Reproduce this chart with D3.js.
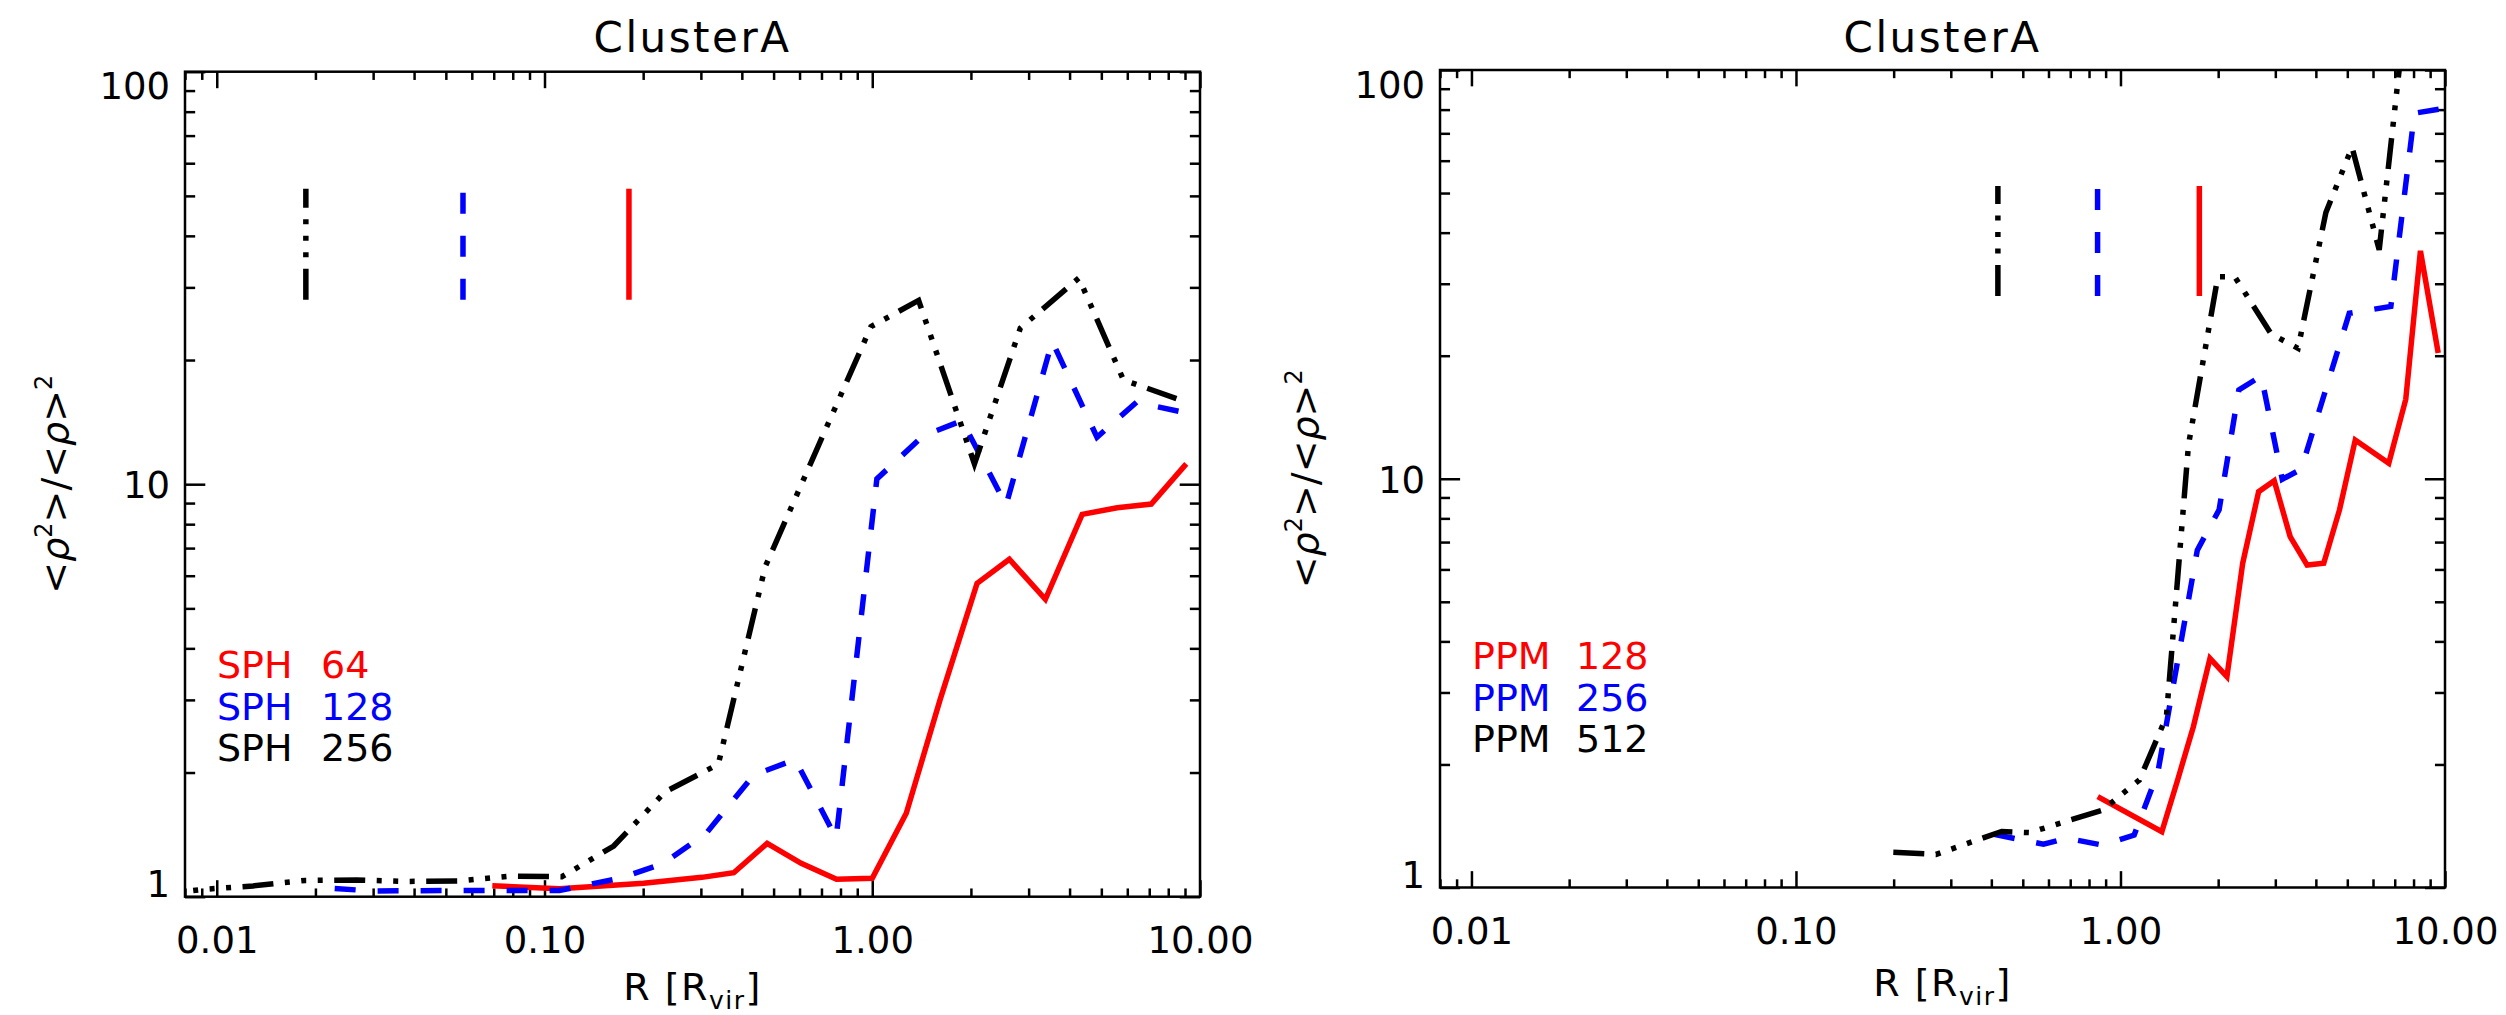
<!DOCTYPE html>
<html>
<head>
<meta charset="utf-8">
<script src="https://cdn.jsdelivr.net/npm/d3@7"></script>
<style>
  body { margin: 0; background: #fff; }
  svg { display: block; font-family: "DejaVu Sans", sans-serif; }
</style>
</head>
<body>
<svg id="chart" width="2506" height="1015"></svg>
<script>
// Clumping factor <rho^2>/<rho>^2 against radius.
// Left panel: SPH runs
var sph64R  = [0.0693, 0.111, 0.2006, 0.302, 0.378, 0.478, 0.607, 0.778, 1.0, 1.27, 1.61, 2.088, 2.62, 3.375, 4.37, 5.59, 7.1, 9.08];
var sph64V  = [1.063, 1.045, 1.078, 1.114, 1.143, 1.347, 1.205, 1.102, 1.108, 1.593, 3.0, 5.75, 6.58, 5.26, 8.45, 8.77, 8.95, 11.2];
var sph128R = [0.0229, 0.030, 0.050, 0.080, 0.111, 0.171, 0.231, 0.312, 0.435, 0.582, 0.776, 1.033, 1.43, 1.88, 2.56, 3.54, 4.85, 6.4, 8.7];
var sph128V = [1.047, 1.032, 1.035, 1.035, 1.035, 1.11, 1.205, 1.427, 1.973, 2.15, 1.388, 10.3, 13.1, 14.26, 8.9, 22.2, 13.0, 15.8, 15.0];
var sph256R = [0.0063, 0.009, 0.0129, 0.0186, 0.0267, 0.0383, 0.055, 0.0789, 0.113, 0.1626, 0.233, 0.339, 0.4714, 0.69, 0.991, 1.385, 2.05, 2.83, 4.27, 5.84, 8.72];
var sph256V = [1.006, 1.041, 1.062, 1.095, 1.098, 1.089, 1.092, 1.122, 1.118, 1.327, 1.794, 2.094, 6.31, 12.56, 24.1, 27.9, 11.2, 23.9, 31.6, 17.9, 16.0];

// Right panel: PPM runs
var ppm128R = [0.851, 1.341, 1.5, 1.677, 1.887, 2.128, 2.38, 2.665, 2.977, 3.333, 3.76, 4.23, 4.73, 5.29, 6.71, 7.57, 8.40, 9.53];
var ppm128V = [1.668, 1.369, 1.833, 2.474, 3.637, 3.28, 6.21, 9.30, 9.89, 7.22, 6.15, 6.21, 8.39, 12.44, 10.91, 15.64, 36.1, 20.3];
var ppm256R = [0.4076, 0.579, 0.684, 0.88, 1.102, 1.303, 1.725, 2.013, 2.316, 2.716, 3.151, 3.606, 5.07, 6.81, 8.05, 9.9];
var ppm256V = [1.349, 1.276, 1.32, 1.27, 1.344, 1.909, 6.69, 8.39, 16.5, 17.84, 9.97, 10.56, 25.4, 26.4, 78.4, 80.5];
var ppm512R = [0.1995, 0.27, 0.4306, 0.525, 0.88, 1.144, 1.385, 1.62, 1.995, 2.25, 2.914, 3.524, 4.295, 5.17, 6.27, 7.9];
var ppm512V = [1.219, 1.205, 1.371, 1.362, 1.547, 1.833, 2.617, 12.1, 31.2, 31.2, 22.6, 20.85, 44.8, 64.7, 36.3, 190];

// resolution markers (vertical bars at the top), order: red, blue, black
var sphMarkR = [0.181, 0.0564, 0.0187];
var ppmMarkR = [1.75, 0.85, 0.419];
var markV = [28, 52];

var sphCode = ["SPH", "SPH", "SPH"];
var sphRes  = ["64", "128", "256"];
var ppmCode = ["PPM", "PPM", "PPM"];
var ppmRes  = ["128", "256", "512"];

var xDomain = [0.008, 10];
var yDomain = [1, 100];
var xMajor = [0.01, 0.1, 1, 10];
var yMajor = [1, 10, 100];
var xTickLabels = ["0.01", "0.10", "1.00", "10.00"];
var yTickLabels = ["1", "10", "100"];

var colors = ["#ff0000", "#0000ff", "#000000"];
var dashes = [null, "21,22", "31,11.5,5,11.5,5,11.5,5,11.5"];

var svg = d3.select("#chart");
svg.append("rect").attr("width", 2506).attr("height", 1015).attr("fill", "#fff");

// 2..9 in each decade, skipping the labelled ones
function minorTicks(domain) {
  var out = [];
  for (var e = -4; e <= 3; e++) {
    for (var k = 2; k <= 9; k++) {
      var v = k * Math.pow(10, e);
      if (v >= domain[0] * 0.9999 && v <= domain[1] * 1.0001) out.push(v);
    }
  }
  return out;
}

function styleAxis(g) {
  g.select(".domain").remove();
  g.attr("font-family", null).attr("font-size", null);
  g.selectAll("line").attr("stroke", "#000").attr("stroke-width", 2.5);
  g.selectAll("text").attr("fill", "#000").attr("font-size", 37);
}

function drawPanel(p) {
  var x = d3.scaleLog().domain(xDomain).range([p.left, p.right]);
  var y = d3.scaleLog().domain(yDomain).range([p.bottom, p.top]);
  var w = p.right - p.left;
  var h = p.bottom - p.top;
  var xLen = 0.02 * h;   // IDL-style tick length
  var yLen = 0.02 * w;

  var clipId = "clip" + p.id;
  svg.append("clipPath").attr("id", clipId)
    .append("rect")
    .attr("x", p.left).attr("y", p.top)
    .attr("width", w).attr("height", h);

  var g = svg.append("g");

  // axes on all four sides, ticks pointing inward
  var xMinor = minorTicks(xDomain);
  var yMinor = minorTicks(yDomain);

  var bottom = g.append("g").attr("transform", "translate(0," + p.bottom + ")")
    .call(d3.axisBottom(x).tickValues(xMajor).tickSize(-xLen)
      .tickFormat(function(d, i) { return xTickLabels[i]; }));
  bottom.selectAll("text").attr("y", 56).attr("dy", 0);
  styleAxis(bottom);
  styleAxis(g.append("g").attr("transform", "translate(0," + p.bottom + ")")
    .call(d3.axisBottom(x).tickValues(xMinor).tickSize(-xLen / 2).tickFormat("")));
  styleAxis(g.append("g").attr("transform", "translate(0," + p.top + ")")
    .call(d3.axisTop(x).tickValues(xMajor).tickSize(-xLen).tickFormat("")));
  styleAxis(g.append("g").attr("transform", "translate(0," + p.top + ")")
    .call(d3.axisTop(x).tickValues(xMinor).tickSize(-xLen / 2).tickFormat("")));

  var left = g.append("g").attr("transform", "translate(" + p.left + ",0)")
    .call(d3.axisLeft(y).tickValues(yMajor).tickSize(-yLen).tickPadding(15)
      .tickFormat(function(d, i) { return yTickLabels[i]; }));
  // end labels are kept inside the axis range, like IDL does
  left.selectAll("text").attr("dy", function(d, i) {
    return i === 0 ? "0" : (i === yMajor.length - 1 ? "0.73em" : "0.36em");
  });
  styleAxis(left);
  styleAxis(g.append("g").attr("transform", "translate(" + p.left + ",0)")
    .call(d3.axisLeft(y).tickValues(yMinor).tickSize(-yLen / 2).tickFormat("")));
  styleAxis(g.append("g").attr("transform", "translate(" + p.right + ",0)")
    .call(d3.axisRight(y).tickValues(yMajor).tickSize(-yLen).tickFormat("")));
  styleAxis(g.append("g").attr("transform", "translate(" + p.right + ",0)")
    .call(d3.axisRight(y).tickValues(yMinor).tickSize(-yLen / 2).tickFormat("")));

  g.append("rect")
    .attr("x", p.left).attr("y", p.top)
    .attr("width", w).attr("height", h)
    .attr("fill", "none").attr("stroke", "#000").attr("stroke-width", 2.5);

  var line = d3.line()
    .x(function(d) { return x(d[0]); })
    .y(function(d) { return y(d[1]); });

  var lines = g.append("g").attr("clip-path", "url(#" + clipId + ")");
  p.series.forEach(function(s, i) {
    lines.append("path")
      .datum(d3.zip(s.r, s.v))
      .attr("d", line)
      .attr("fill", "none")
      .attr("stroke", colors[i])
      .attr("stroke-width", 5.5)
      .attr("stroke-linejoin", "miter")
      .attr("stroke-dasharray", dashes[i]);
  });

  // resolution bars, drawn bottom to top so the pattern starts at the bottom
  p.marks.forEach(function(r, i) {
    lines.append("path")
      .datum([[r, markV[0]], [r, markV[1]]])
      .attr("d", line)
      .attr("fill", "none")
      .attr("stroke", colors[i])
      .attr("stroke-width", 5.5)
      .attr("stroke-dasharray", dashes[i]);
  });

  // legend
  p.codes.forEach(function(c, i) {
    var t = g.append("text")
      .attr("x", p.left + 32)
      .attr("y", p.bottom - 218.5 + i * 41.5)
      .attr("font-size", 38)
      .attr("fill", colors[i]);
    t.append("tspan").text(c);
    t.append("tspan").attr("x", p.left + 136).text(p.res[i]);
  });

  // title
  g.append("text")
    .attr("x", (p.left + p.right) / 2)
    .attr("y", 52)
    .attr("text-anchor", "middle")
    .attr("font-size", 42)
    .attr("letter-spacing", 2.5)
    .text("ClusterA");

  // x title: R [R_vir]
  var xt = g.append("text")
    .attr("x", (p.left + p.right) / 2)
    .attr("y", p.xTitleY)
    .attr("text-anchor", "middle")
    .attr("font-size", 38)
    .attr("letter-spacing", 1.5);
  xt.append("tspan").text("R [R");
  xt.append("tspan").attr("font-size", 25).attr("dy", 9).text("vir");
  xt.append("tspan").attr("dy", -9).text("]");

  // y title: <rho^2>/<rho>^2
  var yt = g.append("text")
    .attr("transform", "translate(" + p.yTitleX + "," + ((p.top + p.bottom) / 2) + ") rotate(-90)")
    .attr("text-anchor", "middle")
    .attr("font-size", 38);
  yt.append("tspan").text("<");
  yt.append("tspan").attr("font-style", "italic").text("ρ");
  yt.append("tspan").attr("font-size", 24).attr("dy", -16).text("2");
  yt.append("tspan").attr("dy", 16).text(">/<");
  yt.append("tspan").attr("font-style", "italic").text("ρ");
  yt.append("tspan").text(">");
  yt.append("tspan").attr("font-size", 24).attr("dy", -16).text("2");
}

drawPanel({
  id: "A", left: 185, right: 1200, top: 71.7, bottom: 896.7,
  xTitleY: 1000, yTitleX: 68,
  series: [{r: sph64R, v: sph64V}, {r: sph128R, v: sph128V}, {r: sph256R, v: sph256V}],
  marks: sphMarkR, codes: sphCode, res: sphRes
});

drawPanel({
  id: "B", left: 1440, right: 2445, top: 70, bottom: 887.5,
  xTitleY: 996, yTitleX: 1318,
  series: [{r: ppm128R, v: ppm128V}, {r: ppm256R, v: ppm256V}, {r: ppm512R, v: ppm512V}],
  marks: ppmMarkR, codes: ppmCode, res: ppmRes
});
</script>
</body>
</html>
